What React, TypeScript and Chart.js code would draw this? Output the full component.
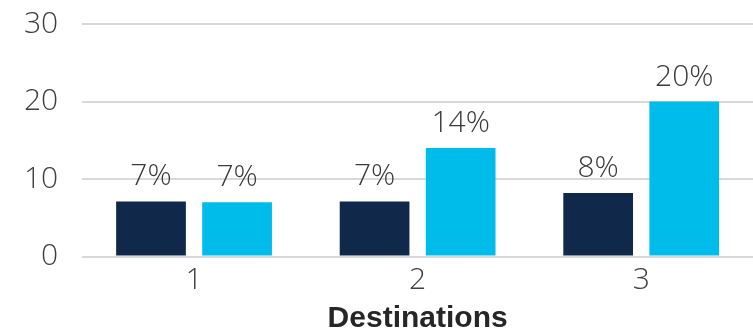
import React, { useEffect, useRef } from "react";
import { Chart, registerables } from "chart.js";

Chart.register(...registerables);

const categories = ["1", "2", "3"];
const seriesDark = [7.1, 7.1, 8.2];
const seriesCyan = [7, 14, 20];
const labelsDark = ["7%", "7%", "8%"];
const labelsCyan = ["7%", "14%", "20%"];
const yTicks = [0, 10, 20, 30];

const FONT = "'Open Sans', Roboto, 'Liberation Sans', Arial, sans-serif";
const TITLE_FONT = "'Liberation Sans', Arial, sans-serif";

const valueLabels = {
  id: "valueLabels",
  afterDatasetsDraw(chart: any) {
    const ctx = chart.ctx;
    ctx.save();
    ctx.font = `300 30px ${FONT}`;
    ctx.fillStyle = "#3a3a3a";
    ctx.textAlign = "center";
    ctx.textBaseline = "alphabetic";
    chart.data.datasets.forEach((ds: any, di: number) => {
      const meta = chart.getDatasetMeta(di);
      meta.data.forEach((bar: any, i: number) => {
        ctx.fillText(ds.valueLabels[i], bar.x, bar.y - 16);
      });
    });
    ctx.restore();
  },
};

export default function App() {
  const ref = useRef<HTMLCanvasElement>(null);
  useEffect(() => {
    const chart = new Chart(ref.current!, {
      type: "bar",
      data: {
        labels: categories,
        datasets: [
          {
            data: seriesDark,
            backgroundColor: "#10284a",
            valueLabels: labelsDark,
          } as any,
          {
            data: seriesCyan,
            backgroundColor: "#00bceb",
            valueLabels: labelsCyan,
          } as any,
        ],
      },
      options: {
        animation: false,
        responsive: false,
        maintainAspectRatio: false,
        datasets: { bar: { barPercentage: 0.81, categoryPercentage: 0.77 } },
        layout: { padding: 0 },
        plugins: { legend: { display: false }, tooltip: { enabled: false } },
        scales: {
          x: {
            grid: { display: false, drawTicks: false },
            border: { display: false },
            ticks: { color: "#404040", font: { family: FONT, size: 30, weight: "300" as any }, padding: 6 },
            title: {
              display: true,
              text: "Destinations",
              color: "#262626",
              font: { family: TITLE_FONT, size: 30, weight: "bold", lineHeight: 0.95 },
              padding: { top: 0, bottom: 1 },
            },
          },
          y: {
            min: 0,
            max: 30,
            afterBuildTicks: (axis: any) => {
              axis.ticks = yTicks.map((v) => ({ value: v }));
            },
            afterFit: (axis: any) => {
              axis.paddingTop = 24;
              axis.paddingBottom = 0;
            },
            grid: { color: "#d9d9d9", lineWidth: 2, drawTicks: false },
            border: { display: false },
            ticks: { color: "#404040", font: { family: FONT, size: 30, weight: "300" as any }, padding: 24 },
          },
        },
      },
      plugins: [valueLabels],
    });
    return () => chart.destroy();
  }, []);
  return (
    <div style={{ position: "fixed", left: 0, top: 0, width: 753, height: 334, background: "#fff" }}>
      <canvas ref={ref} width={753} height={334} style={{ width: 753, height: 334 }} />
    </div>
  );
}
